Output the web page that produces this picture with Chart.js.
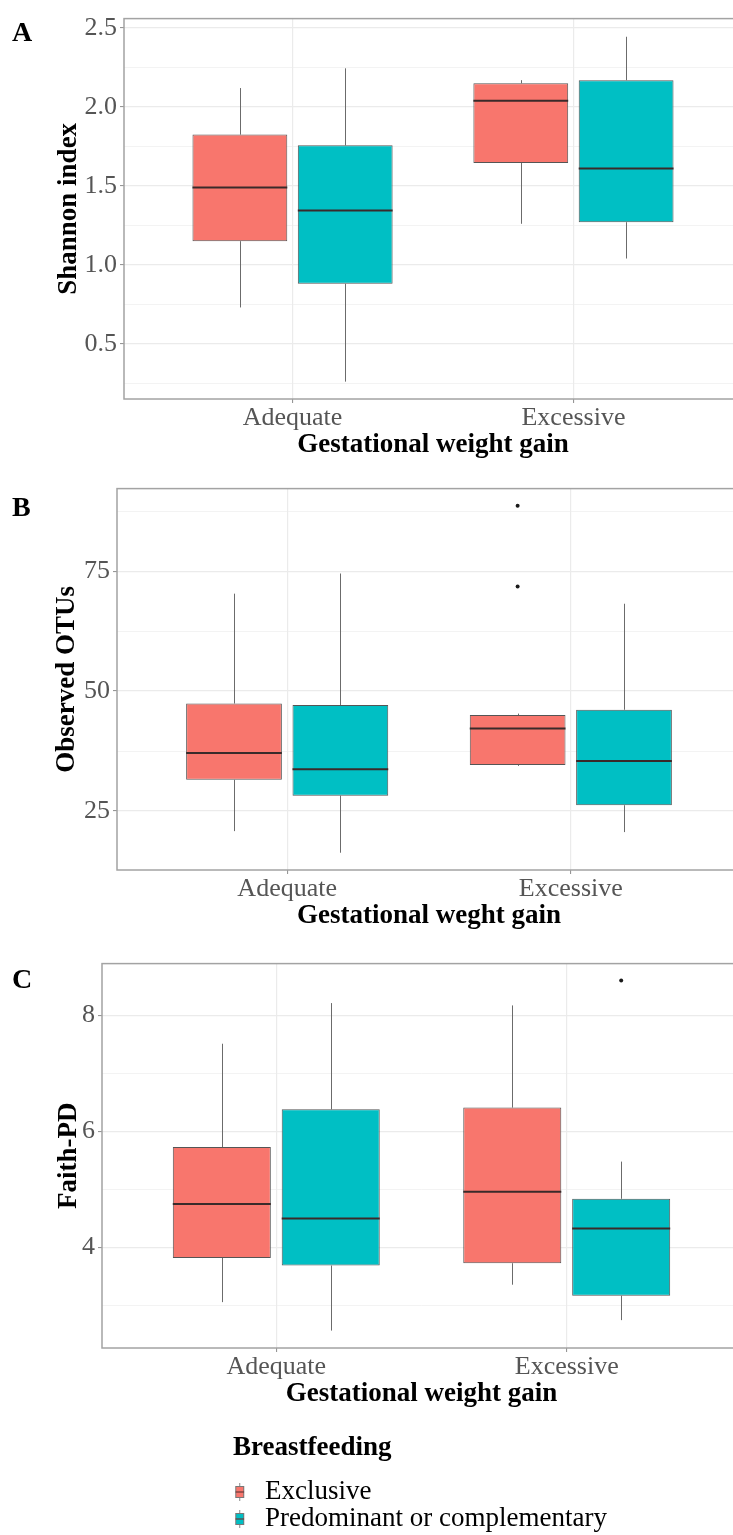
<!DOCTYPE html>
<html>
<head>
<meta charset="utf-8">
<script src="https://cdn.jsdelivr.net/npm/chart.js@4.4.1/dist/chart.umd.min.js"></script>
<style>
  html, body { margin: 0; padding: 0; background: #fff; overflow: hidden; }
  body { width: 733px; height: 1535px; position: relative; }
  canvas { position: absolute; left: 0; }
</style>
</head>
<body>
<canvas id="shannon" width="745" height="470" style="top:0px"></canvas>
<canvas id="otus" width="745" height="475" style="top:470px"></canvas>
<canvas id="faith" width="745" height="475" style="top:945px"></canvas>
<canvas id="legend" width="1200" height="115" style="top:1420px"></canvas>
<script>
const categories = ['Adequate', 'Excessive'];
const groups = ['Exclusive', 'Predominant or complementary'];
const groupColors = ['#F8766D', '#00BFC4'];

// [lower whisker, Q1, median, Q3, upper whisker] for Adequate, Excessive
const shannonExclusive = [[0.73, 1.15, 1.49, 1.825, 2.12], [1.26, 1.645, 2.04, 2.15, 2.17]];
const shannonPredominant = [[0.26, 0.88, 1.345, 1.757, 2.245], [1.04, 1.27, 1.61, 2.17, 2.445]];
const shannonTicks = [0.5, 1.0, 1.5, 2.0, 2.5];
const shannonMinor = [0.25, 0.75, 1.25, 1.75, 2.25];

const otusExclusive = [[20.8, 31.5, 37.1, 47.4, 70.3], [34.4, 34.6, 42.2, 45.0, 45.3]];
const otusPredominant = [[16.3, 28.2, 33.7, 47.1, 74.5], [20.6, 26.2, 35.4, 46.1, 68.2]];
const otusExclusiveOutliers = [[], [88.6, 71.8]];
const otusTicks = [25, 50, 75];
const otusMinor = [37.5, 62.5, 87.5];

const faithExclusive = [[3.06, 3.82, 4.75, 5.73, 7.51], [3.36, 3.73, 4.96, 6.41, 8.17]];
const faithPredominant = [[2.57, 3.69, 4.50, 6.38, 8.21], [2.75, 3.17, 4.33, 4.84, 5.48]];
const faithPredominantOutliers = [[], [8.6]];
const faithTicks = [4, 6, 8];
const faithMinor = [3, 5, 7];

const serif = '"Liberation Serif", "Times New Roman", serif';
const dodgeWidth = 0.75;

// whiskers behind the boxes, medians on top, then the panel frame and letter
const boxplotExtras = {
  id: 'boxplotExtras',
  beforeDatasetsDraw(chart, args, opts) {
    const ctx = chart.ctx, y = chart.scales.y;
    ctx.save();
    ctx.strokeStyle = '#6b6b6b';
    ctx.lineWidth = 1;
    opts.summaries.forEach((series, di) => {
      chart.getDatasetMeta(di).data.forEach((bar, i) => {
        const s = series[i];
        const x = Math.round(bar.x) + 0.5;
        ctx.beginPath();
        ctx.moveTo(x, y.getPixelForValue(s[4]));
        ctx.lineTo(x, y.getPixelForValue(s[3]));
        ctx.moveTo(x, y.getPixelForValue(s[1]));
        ctx.lineTo(x, y.getPixelForValue(s[0]));
        ctx.stroke();
      });
    });
    ctx.restore();
  },
  afterDatasetsDraw(chart, args, opts) {
    const ctx = chart.ctx, y = chart.scales.y;
    ctx.save();
    ctx.strokeStyle = '#3a2a2a';
    ctx.lineWidth = 2;
    opts.summaries.forEach((series, di) => {
      chart.getDatasetMeta(di).data.forEach((bar, i) => {
        const py = y.getPixelForValue(series[i][2]);
        ctx.beginPath();
        ctx.moveTo(bar.x - bar.width / 2, py);
        ctx.lineTo(bar.x + bar.width / 2, py);
        ctx.stroke();
      });
    });
    const a = chart.chartArea;
    ctx.strokeStyle = '#a3a3a3';
    ctx.lineWidth = 1.5;
    ctx.strokeRect(a.left, a.top, a.right - a.left, a.bottom - a.top);
    ctx.fillStyle = '#000';
    ctx.font = 'bold 28px ' + serif;
    ctx.textBaseline = 'middle';
    ctx.textAlign = 'left';
    ctx.fillText(opts.letter, 12, opts.letterY);
    ctx.restore();
  }
};

function makeBoxChart(id, p) {
  const canvas = document.getElementById(id);
  const H = canvas.height;
  const datasets = p.summaries.map((series, g) => ({
    type: 'bar',
    label: groups[g],
    data: series.map((s, i) => ({ x: i + 1, y: [s[1], s[3]] })),
    backgroundColor: groupColors[g],
    borderColor: '#555',
    borderWidth: 1,
    borderSkipped: false,
    categoryPercentage: dodgeWidth,
    barPercentage: 0.9
  }));
  p.outliers.forEach((series, g) => {
    if (!series) return;
    const pts = [];
    series.forEach((vals, i) => vals.forEach(v => pts.push({ x: i + 1 + (g - 0.5) * dodgeWidth / 2, y: v })));
    datasets.push({
      type: 'scatter', data: pts, pointRadius: 2, pointBorderWidth: 0,
      backgroundColor: '#1a1a1a', borderColor: '#1a1a1a'
    });
  });

  const isMajor = v => p.ticks.some(t => Math.abs(t - v) < 1e-9);

  return new Chart(canvas, {
    type: 'bar',
    data: { datasets },
    plugins: [boxplotExtras],
    options: {
      responsive: false,
      animation: false,
      devicePixelRatio: 1,
      layout: { padding: { top: p.plotTop, left: 0, right: 3, bottom: 0 } },
      plugins: {
        legend: { display: false },
        tooltip: { enabled: false },
        boxplotExtras: { summaries: p.summaries, letter: p.letter, letterY: p.letterY }
      },
      scales: {
        x: {
          type: 'linear',
          min: 0.4,
          max: 2.6,
          offset: false,
          afterBuildTicks: s => { s.ticks = categories.map((c, i) => ({ value: i + 1 })); },
          afterFit: s => { s.height = H - p.plotBottom; },
          ticks: {
            autoSkip: false,
            maxRotation: 0,
            padding: 0,
            color: '#555',
            font: { family: serif, size: 26, lineHeight: 1.2 },
            callback: v => categories[Math.round(v) - 1]
          },
          grid: {
            offset: false,
            color: '#ebebeb',
            lineWidth: 1.2,
            drawTicks: true,
            tickLength: 4,
            tickColor: '#8c8c8c',
            tickWidth: 1
          },
          border: { display: false },
          title: {
            display: true,
            text: p.xTitle,
            color: '#000',
            font: { family: serif, size: 27, weight: 'bold', lineHeight: 1.2 },
            padding: { top: 0, bottom: H - p.plotBottom - 46.5 - 16.2 }
          }
        },
        y: {
          type: 'linear',
          min: p.min,
          max: p.max,
          beginAtZero: false,
          afterBuildTicks: s => {
            s.ticks = p.ticks.concat(p.minor).sort((a, b) => a - b).map(v => ({ value: v }));
          },
          afterFit: s => { s.width = p.plotLeft; },
          ticks: {
            autoSkip: false,
            padding: 3,
            color: '#555',
            font: { family: serif, size: 26 },
            callback: v => isMajor(v) ? p.format(v) : ''
          },
          grid: {
            color: '#ebebeb',
            lineWidth: c => isMajor(c.tick.value) ? 1.2 : 0.6,
            drawTicks: true,
            tickLength: 4,
            tickWidth: 1,
            tickColor: c => isMajor(c.tick.value) ? '#8c8c8c' : 'rgba(0,0,0,0)'
          },
          border: { display: false },
          title: {
            display: true,
            text: p.yTitle,
            color: '#000',
            font: { family: serif, size: 27, weight: 'bold', lineHeight: 1.2 },
            padding: { top: p.yTitleX - 16.2, bottom: 0 }
          }
        }
      }
    }
  });
}

makeBoxChart('shannon', {
  summaries: [shannonExclusive, shannonPredominant],
  outliers: [null, null],
  ticks: shannonTicks, minor: shannonMinor,
  min: 0.15, max: 2.56,
  format: v => v.toFixed(1),
  plotTop: 9, plotBottom: 399, plotLeft: 124,
  yTitle: 'Shannon index', yTitleX: 69,
  xTitle: 'Gestational weight gain',
  letter: 'A', letterY: 34
});

makeBoxChart('otus', {
  summaries: [otusExclusive, otusPredominant],
  outliers: [otusExclusiveOutliers, null],
  ticks: otusTicks, minor: otusMinor,
  min: 12.7, max: 92.2,
  format: v => String(v),
  plotTop: 10, plotBottom: 400, plotLeft: 117,
  yTitle: 'Observed OTUs', yTitleX: 67.5,
  xTitle: 'Gestational weght gain',
  letter: 'B', letterY: 39
});

makeBoxChart('faith', {
  summaries: [faithExclusive, faithPredominant],
  outliers: [null, faithPredominantOutliers],
  ticks: faithTicks, minor: faithMinor,
  min: 2.27, max: 8.89,
  format: v => String(v),
  plotTop: 12, plotBottom: 403, plotLeft: 102,
  yTitle: 'Faith-PD', yTitleX: 69.5,
  xTitle: 'Gestational weight gain',
  letter: 'C', letterY: 36
});

// small boxplot glyph for the legend keys
function legendKey(fill) {
  const c = document.createElement('canvas');
  c.width = 18;
  c.height = 20;
  const k = c.getContext('2d');
  k.strokeStyle = '#888';
  k.lineWidth = 1;
  k.beginPath();
  k.moveTo(6.5, 1);
  k.lineTo(6.5, 19);
  k.stroke();
  k.fillStyle = fill;
  k.fillRect(2, 4, 9, 12);
  k.strokeStyle = '#777';
  k.strokeRect(2.5, 4.5, 8, 11);
  k.strokeStyle = '#6a3a3a';
  k.lineWidth = 1.2;
  k.beginPath();
  k.moveTo(2, 10);
  k.lineTo(11, 10);
  k.stroke();
  return c;
}

new Chart(document.getElementById('legend'), {
  type: 'bar',
  data: {
    datasets: groups.map((g, i) => ({ label: g, data: [], backgroundColor: groupColors[i] }))
  },
  options: {
    responsive: false,
    animation: false,
    devicePixelRatio: 1,
    layout: { padding: { left: 233, top: 14.5 } },
    scales: { x: { display: false }, y: { display: false } },
    plugins: {
      tooltip: { enabled: false },
      legend: {
        position: 'left',
        align: 'start',
        title: {
          display: true,
          text: 'Breastfeeding',
          position: 'start',
          color: '#000',
          font: { family: serif, size: 27, weight: 'bold', lineHeight: 1.2 },
          padding: { top: 0, bottom: 11.6 }
        },
        labels: {
          usePointStyle: true,
          pointStyleWidth: 18.5,
          boxWidth: 18.5,
          padding: 0,
          color: '#111',
          font: { family: serif, size: 27 },
          generateLabels: chart => chart.data.datasets.map((ds, i) => ({
            text: ds.label,
            pointStyle: legendKey(groupColors[i]),
            fillStyle: groupColors[i],
            strokeStyle: groupColors[i],
            lineWidth: 0,
            hidden: false,
            datasetIndex: i
          }))
        }
      }
    }
  }
});
</script>
</body>
</html>
